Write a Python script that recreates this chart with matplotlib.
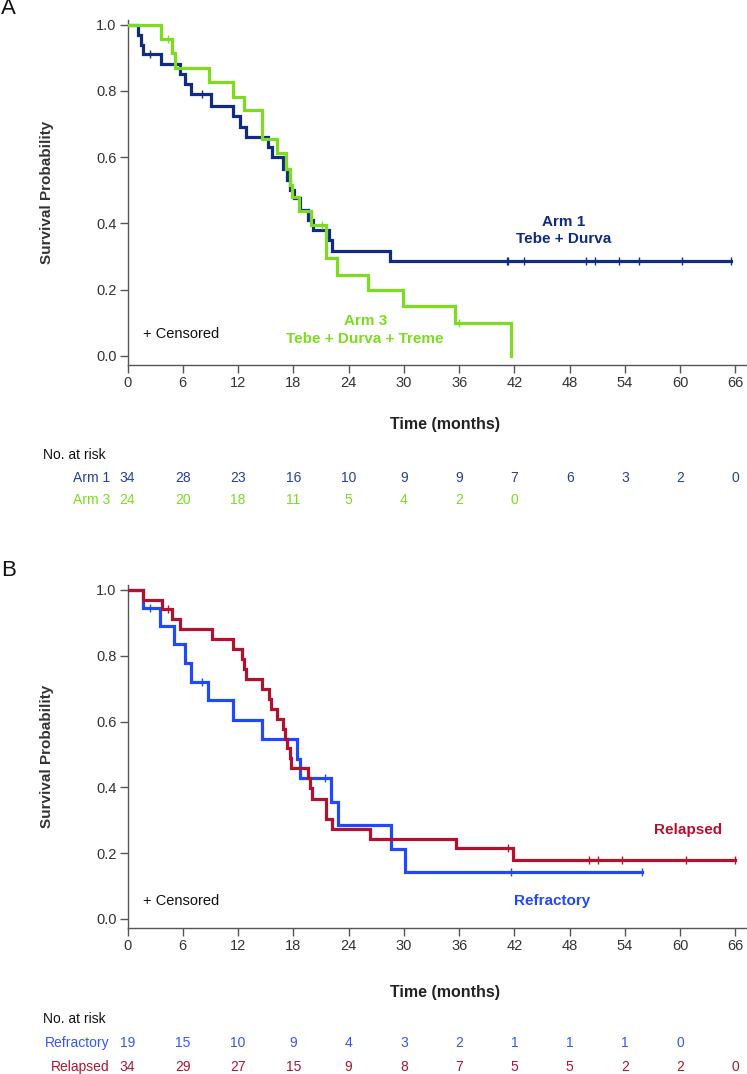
import numpy as np
import matplotlib
matplotlib.use("Agg")
import matplotlib.pyplot as plt
import matplotlib.transforms as mtransforms

plt.rcParams["font.family"] = ["Liberation Sans", "DejaVu Sans"]

# ---- data ----
months = [0, 6, 12, 18, 24, 30, 36, 42, 48, 54, 60, 66]
y_ticks = [0.0, 0.2, 0.4, 0.6, 0.8, 1.0]

# Panel A: Arm 1 (Tebe + Durva)
arm1_t = [0, 1.17, 1.5, 1.72, 3.6, 5.7, 6.24, 6.86, 9.03, 11.5, 12.2, 12.9, 15.3, 15.65,
          16.9, 17.3, 17.6, 18.1, 18.7, 19.6, 20.1, 21.9, 22.2, 28.5]
arm1_s = [1.0, 0.97, 0.94, 0.91, 0.88, 0.85, 0.82, 0.79, 0.755, 0.725, 0.69, 0.66, 0.63, 0.60,
          0.565, 0.53, 0.50, 0.475, 0.44, 0.41, 0.38, 0.35, 0.316, 0.286]
arm1_end = 65.5
arm1_cens = [2.44, 8.06, 41.2, 41.35, 43.0, 49.8, 50.8, 53.4, 55.5, 60.2, 65.5]

# Panel A: Arm 3 (Tebe + Durva + Treme)
arm3_t = [0, 3.6, 4.8, 5.16, 8.8, 11.4, 12.7, 14.6, 16.2, 17.2, 17.6, 17.9, 18.65, 19.9,
          21.55, 22.7, 26.1, 29.9, 35.6, 41.6]
arm3_s = [1.0, 0.956, 0.915, 0.87, 0.828, 0.782, 0.742, 0.654, 0.611, 0.563, 0.516, 0.478,
          0.438, 0.395, 0.294, 0.244, 0.198, 0.15, 0.098, 0.0]
arm3_end = 41.6
arm3_cens = [4.36, 21.1, 36.0]

# Panel B: Refractory
ref_t = [0, 1.65, 3.5, 5.05, 6.24, 6.9, 8.7, 11.4, 14.6, 18.4, 18.7, 22.06, 22.8, 28.6, 30.1]
ref_s = [1.0, 0.946, 0.89, 0.835, 0.779, 0.721, 0.664, 0.605, 0.546, 0.485, 0.428, 0.355,
         0.286, 0.213, 0.144]
ref_end = 55.9
ref_cens = [2.44, 8.1, 21.4, 41.6, 55.9]

# Panel B: Relapsed
rel_t = [0, 1.65, 3.7, 4.8, 5.7, 9.14, 11.5, 12.4, 12.65, 12.9, 14.6, 15.4, 15.6, 16.2, 16.9,
         17.1, 17.3, 17.6, 17.75, 19.6, 19.8, 20.0, 21.6, 22.2, 26.3, 35.7, 41.8]
rel_s = [1.0, 0.97, 0.941, 0.911, 0.88, 0.85, 0.82, 0.789, 0.759, 0.729, 0.698, 0.668, 0.637,
         0.607, 0.577, 0.546, 0.519, 0.488, 0.458, 0.428, 0.397, 0.365, 0.304, 0.274, 0.243,
         0.215, 0.179]
rel_end = 65.9
rel_cens = [4.36, 41.35, 50.1, 51.1, 53.7, 60.6, 65.9]

# numbers at risk
arm1_risk = [34, 28, 23, 16, 10, 9, 9, 7, 6, 3, 2, 0]
arm3_risk = [24, 20, 18, 11, 5, 4, 2, 0]
ref_risk = [19, 15, 10, 9, 4, 3, 2, 1, 1, 1, 0]
rel_risk = [34, 29, 27, 15, 9, 8, 7, 5, 5, 2, 2, 0]

NAVY = "#0f2b83"
GREEN = "#7ddc1f"
BLUE = "#1f48ff"
RED = "#b3122e"
NAVY_TXT = "#23409a"
BLUE_TXT = "#3355ff"

W, H = 747, 1074
fig = plt.figure(figsize=(W / 100, H / 100), dpi=100)


def fy(py):
    return 1 - py / H


def km(ax, t, s, end, cens, color):
    tt = list(t) + [end]
    ss = list(s) + [s[-1]]
    ax.step(tt, ss, where="post", color=color, lw=2.3, solid_joinstyle="miter", zorder=3)
    idx = np.searchsorted(t, cens, side="right") - 1
    ax.plot(cens, np.array(s)[idx], ls="none", marker="|", ms=6, mew=1.0, color=color, zorder=4)


def setup(ax):
    ax.set_xlim(0, 67.2)
    ax.set_ylim(-0.028, 1.015)
    ax.set_xticks(months)
    ax.set_yticks(y_ticks)
    ax.set_yticklabels([f"{v:.1f}" for v in y_ticks])
    for sp in ["top", "right"]:
        ax.spines[sp].set_visible(False)
    for sp in ["left", "bottom"]:
        ax.spines[sp].set_color("#555555")
        ax.spines[sp].set_linewidth(1.0)
    ax.tick_params(direction="out", length=6, width=1, color="#555555",
                   labelcolor="#333333", labelsize=10.5, pad=2)
    ax.set_ylabel("Survival Probability", fontsize=11, fontweight="bold", color="#333333")
    ax.yaxis.set_label_coords(-0.118, 0.5)


def risk_table(ax, top_py, rows):
    tr = mtransforms.blended_transform_factory(ax.transData, fig.transFigure)
    fig.text(43 / W, fy(top_py), "No. at risk", fontsize=10, color="#111111", va="center")
    for py, label, vals, color in rows:
        fig.text(110 / W, fy(py), label, fontsize=10, color=color, va="center", ha="right")
        for m, v in zip(months, vals):
            ax.text(m, fy(py), str(v), transform=tr, fontsize=10, color=color,
                    ha="center", va="center")


# ---- Panel A ----
axA = fig.add_axes([127.5 / W, fy(365), 619 / W, 345.3 / H])
setup(axA)
km(axA, arm1_t, arm1_s, arm1_end, arm1_cens, NAVY)
km(axA, arm3_t, arm3_s, arm3_end, arm3_cens, GREEN)
axA.text(47.3, 0.405, "Arm 1", color=NAVY, fontsize=11, fontweight="bold", ha="center", va="center")
axA.text(47.3, 0.352, "Tebe + Durva", color=NAVY, fontsize=11, fontweight="bold", ha="center", va="center")
axA.text(25.8, 0.106, "Arm 3", color=GREEN, fontsize=11, fontweight="bold", ha="center", va="center")
axA.text(25.8, 0.05, "Tebe + Durva + Treme", color=GREEN, fontsize=11, fontweight="bold",
         ha="center", va="center")
axA.text(1.65, 0.066, "+ Censored", color="#111111", fontsize=10.5, va="center")
fig.text(445 / W, fy(425), "Time (months)", fontsize=11.5, fontweight="bold", color="#222222",
         ha="center", va="center")
fig.text(1 / W, fy(9), "A", fontsize=16, color="#111111", va="center")
risk_table(axA, 455, [(478, "Arm 1", arm1_risk, NAVY_TXT), (500, "Arm 3", arm3_risk, GREEN)])

# ---- Panel B ----
axB = fig.add_axes([127.5 / W, fy(928.2), 619 / W, 343.2 / H])
setup(axB)
km(axB, ref_t, ref_s, ref_end, ref_cens, BLUE)
km(axB, rel_t, rel_s, rel_end, rel_cens, RED)
axB.text(60.9, 0.27, "Relapsed", color=RED, fontsize=11, fontweight="bold", ha="center", va="center")
axB.text(46.1, 0.055, "Refractory", color=BLUE, fontsize=11, fontweight="bold", ha="center", va="center")
axB.text(1.65, 0.055, "+ Censored", color="#111111", fontsize=10.5, va="center")
fig.text(445 / W, fy(993), "Time (months)", fontsize=11.5, fontweight="bold", color="#222222",
         ha="center", va="center")
fig.text(1 / W, fy(570), "B", fontsize=16, color="#111111", va="center")
risk_table(axB, 1019, [(1043, "Refractory", ref_risk, BLUE_TXT), (1067, "Relapsed", rel_risk, RED)])

fig.savefig("out.png", dpi=100)
